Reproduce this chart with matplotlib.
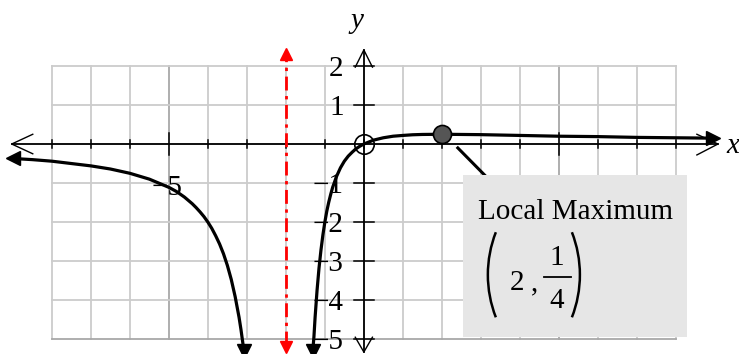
import matplotlib
matplotlib.use('Agg')
import matplotlib.pyplot as plt
from matplotlib.patches import Rectangle, Arc

plt.rcParams['font.family'] = ['Liberation Serif', 'DejaVu Serif']

# curve points (two branches around x = -2)
left_x = [-9.0, -8.5, -8.0, -7.5, -7.0, -6.5, -6.0, -5.5, -5.0, -4.8, -4.6, -4.4, -4.3, -4.2, -4.1, -4.0,
          -3.9, -3.8, -3.7, -3.6, -3.5, -3.4, -3.3, -3.2, -3.15, -3.1, -3.07]
left_y = [-0.37, -0.40, -0.44, -0.50, -0.56, -0.64, -0.75, -0.90, -1.11, -1.22, -1.36, -1.53, -1.63, -1.74, -1.86, -2.0,
          -2.16, -2.35, -2.56, -2.81, -3.11, -3.47, -3.91, -4.44, -4.76, -5.12, -5.30]
right_x = [-1.31, -1.28, -1.25, -1.2, -1.15, -1.1, -1.05, -1.0, -0.95, -0.9, -0.85, -0.8, -0.7, -0.6, -0.5, -0.4,
           -0.3, -0.2, -0.1, 0.0, 0.25, 0.5, 0.75, 1.0, 1.25, 1.5, 2.0, 3.0, 4.0, 5.0, 6.0, 7.0, 8.0, 8.95]
right_y = [-5.30, -4.94, -4.44, -3.75, -3.18, -2.72, -2.33, -2.0, -1.72, -1.49, -1.29, -1.11, -0.83, -0.61, -0.44, -0.31,
           -0.21, -0.12, -0.055, 0.0, 0.10, 0.16, 0.20, 0.22, 0.237, 0.245, 0.25, 0.24, 0.22, 0.20, 0.19, 0.17, 0.16, 0.15]

asymptote_x = -2
hole = (0, 0)
local_max = (2, 0.25)
x_ticks = list(range(-8, 9))
y_ticks = list(range(-5, 3))
y_labels = ['\u22125', '\u22124', '\u22123', '\u22122', '\u22121', '', '1', '2']

fig = plt.figure(figsize=(7.39, 3.54), dpi=100)
ax = fig.add_axes([0, 0, 1, 1])
ax.set_xlim(-9.33, 9.62)
ax.set_ylim(-5.38, 3.69)
ax.axis('off')

# grid
for gx in x_ticks:
    c = '#a8a8a8' if abs(gx) == 5 else '#cccccc'
    ax.plot([gx, gx], [-5, 2], color=c, lw=1.3, zorder=1)
for gy in y_ticks:
    c = '#a8a8a8' if gy == -5 else '#cccccc'
    ax.plot([-8, 8], [gy, gy], color=c, lw=1.3, zorder=1)

# axes lines with open arrowheads
ax.plot([-9.03, 9.08], [0, 0], color='black', lw=1.3, zorder=3)
ax.plot([0, 0], [-5.33, 2.41], color='black', lw=1.3, zorder=3)
ax.plot([-8.49, -9.03, -8.49], [0.25, 0, -0.25], color='black', lw=1.0, zorder=3)
ax.plot([8.54, 9.08, 8.54], [0.25, 0, -0.28], color='black', lw=1.0, zorder=3)
ax.plot([-0.22, 0, 0.22], [1.97, 2.41, 1.97], color='black', lw=1.0, zorder=3)
ax.plot([-0.22, 0, 0.22], [-4.95, -5.33, -4.95], color='black', lw=1.0, zorder=3)

# ticks
for t in x_ticks:
    h = 0.28 if abs(t) == 5 else 0.1
    ax.plot([t, t], [-h, h], color='black', lw=1.1, zorder=3)
for t in y_ticks:
    if t != 0:
        ax.plot([-0.25, 0.25], [t, t], color='black', lw=1.1, zorder=3)

# tick labels
for t, lab in zip(y_ticks, y_labels):
    if lab:
        ax.text(-0.52, t, lab, ha='right', va='center_baseline', fontsize=21, zorder=4)
ax.text(-5.05, -1.05, '\u22125', ha='center', va='center_baseline', fontsize=21, zorder=4)
ax.text(5.0, -1.05, '5', ha='center', va='center_baseline', fontsize=21, zorder=2)

ax.text(-0.18, 3.15, 'y', style='italic', fontsize=21, ha='center', va='center')
ax.text(9.47, -0.05, 'x', style='italic', fontsize=21, ha='center', va='center')

# vertical asymptote
ax.plot([asymptote_x, asymptote_x], [-5.15, 2.3], color='red', lw=2, ls=(0, (5, 2, 1.2, 2)), zorder=4)
ax.plot([asymptote_x], [2.3], marker='^', color='red', ms=8, zorder=5)
ax.plot([asymptote_x], [-5.2], marker='v', color='red', ms=8, zorder=5)

# curve
ax.plot(left_x, left_y, color='black', lw=2.3, zorder=5, solid_capstyle='butt')
ax.plot(right_x, right_y, color='black', lw=2.3, zorder=5, solid_capstyle='butt')
ax.plot([left_x[0]], [left_y[0]], marker='<', color='black', ms=10, zorder=6)
ax.plot([left_x[-1]], [left_y[-1]], marker='v', color='black', ms=10, zorder=6)
ax.plot([right_x[0]], [right_y[0]], marker='v', color='black', ms=10, zorder=6)
ax.plot([right_x[-1]], [right_y[-1]], marker='>', color='black', ms=10, zorder=6)

# hole and local max
ax.plot([hole[0]], [hole[1]], marker='o', ms=14, mfc='none', mec='black', mew=1.2, zorder=7)
ax.plot([local_max[0]], [local_max[1]], marker='o', ms=13, mfc='#555555', mec='black', mew=1.2, zorder=7)
ax.plot([2.41, 3.2], [-0.1, -0.9], color='black', lw=2.2, zorder=6)

# label box
ax.add_patch(Rectangle((2.54, -4.95), 5.74, 4.16, facecolor='#e6e6e6', edgecolor='none', zorder=8))
ax.text(2.92, -1.67, 'Local Maximum', ha='left', va='center_baseline', fontsize=21, zorder=9)
ax.text(3.92, -3.49, '2', ha='center', va='center_baseline', fontsize=21, zorder=9)
ax.text(4.38, -3.49, ',', ha='center', va='center_baseline', fontsize=21, zorder=9)
ax.text(4.95, -2.85, '1', ha='center', va='center_baseline', fontsize=21, zorder=9)
ax.text(4.95, -3.95, '4', ha='center', va='center_baseline', fontsize=21, zorder=9)
ax.plot([4.62, 5.3], [-3.41, -3.41], color='black', lw=1.3, zorder=9)
ax.add_patch(Arc((6.18, -3.35), 6.0, 6.0, theta1=158.7, theta2=201.3, color='black', lw=1.8, zorder=9))
ax.add_patch(Arc((2.54, -3.35), 6.0, 6.0, theta1=-21.3, theta2=21.3, color='black', lw=1.8, zorder=9))

fig.savefig('out.png', dpi=100)
